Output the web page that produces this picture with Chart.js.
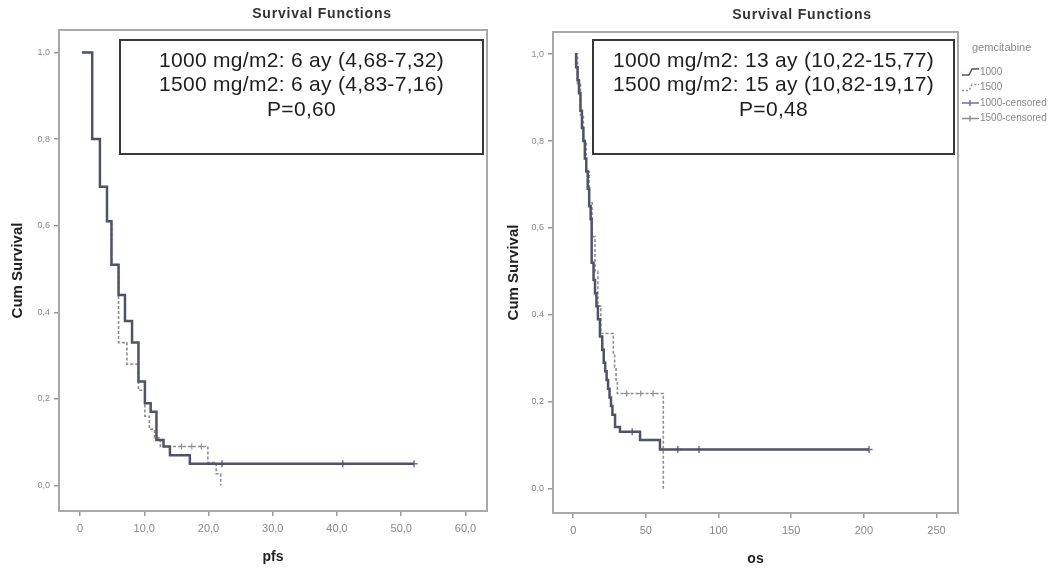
<!DOCTYPE html>
<html>
<head>
<meta charset="utf-8">
<script src="https://cdn.jsdelivr.net/npm/chart.js@4.4.1/dist/chart.umd.min.js"></script>
<style>
  body { margin: 0; background: #fff; }
  #wrap { position: relative; width: 1059px; height: 572px; }
  canvas { position: absolute; top: 0; }
</style>
</head>
<body>
<div id="wrap">
  <canvas id="chartPfs" width="496" height="572" style="left:0"></canvas>
  <canvas id="chartOs" width="563" height="572" style="left:496px"></canvas>
</div>
<script>
// --- pfs (left panel) ---
const pfsTime1000 = [0.3, 1.9, 3.1, 4.2, 4.9, 6.0, 7.0, 8.1, 9.1, 10.1, 11.0, 11.9, 13.0, 14.0, 17.1, 52.0];
const pfsSurv1000 = [1.0, 0.80, 0.69, 0.61, 0.51, 0.44, 0.38, 0.33, 0.24, 0.19, 0.17, 0.105, 0.09, 0.07, 0.05, 0.05];
const pfsTime1500 = [0.3, 1.9, 3.1, 4.2, 4.9, 6.0, 7.3, 9.1, 10.1, 10.8, 11.6, 12.5, 19.9, 21.2, 21.9];
const pfsSurv1500 = [1.0, 0.80, 0.69, 0.61, 0.51, 0.33, 0.28, 0.22, 0.16, 0.13, 0.11, 0.09, 0.053, 0.027, 0.0];
const pfsCensT1000 = [22.1, 40.9, 52.0];
const pfsCensS1000 = [0.05, 0.05, 0.05];
const pfsCensT1500 = [15.8, 17.4, 18.9];
const pfsCensS1500 = [0.09, 0.09, 0.09];
const pfsTicks = [0, 10, 20, 30, 40, 50, 60];
const pfsTickLabels = ["0", "10,0", "20,0", "30,0", "40,0", "50,0", "60,0"];
const pfsNotes = ["1000 mg/m2: 6 ay (4,68-7,32)", "1500 mg/m2: 6 ay (4,83-7,16)", "P=0,60"];

// --- os (right panel) ---
const osTime1000 = [1.2, 2, 3, 4, 5, 6, 7, 8, 9, 10, 11, 12, 12.7, 14, 15, 16, 17, 18.4, 20, 21, 22, 23, 24, 25, 26, 27, 28.8, 32.2, 46, 59.7, 203.6];
const osSurv1000 = [1.0, 0.97, 0.94, 0.91, 0.87, 0.83, 0.80, 0.76, 0.73, 0.69, 0.65, 0.62, 0.52, 0.48, 0.45, 0.42, 0.39, 0.35, 0.32, 0.29, 0.27, 0.25, 0.23, 0.21, 0.19, 0.17, 0.142, 0.131, 0.112, 0.09, 0.09];
const osTime1500 = [1.2, 3, 5, 7, 9, 11, 13, 15, 17, 19, 27.6, 28.5, 29.5, 30.4, 62];
const osSurv1500 = [1.0, 0.93, 0.86, 0.80, 0.73, 0.66, 0.58, 0.50, 0.42, 0.357, 0.31, 0.28, 0.25, 0.219, 0.0];
const osCensT1000 = [40.6, 72, 86.6, 203.6];
const osCensS1000 = [0.131, 0.09, 0.09, 0.09];
const osCensT1500 = [36.8, 46.5, 55];
const osCensS1500 = [0.219, 0.219, 0.219];
const osTicks = [0, 50, 100, 150, 200, 250];
const osTickLabels = ["0", "50", "100", "150", "200", "250"];
const osNotes = ["1000 mg/m2: 13 ay (10,22-15,77)", "1500 mg/m2: 15 ay (10,82-19,17)", "P=0,48"];

// shared
const survTicks = [0, 0.2, 0.4, 0.6, 0.8, 1.0];
const survTickLabels = ["0,0", "0,2", "0,4", "0,6", "0,8", "1,0"];
const chartTitle = "Survival Functions";
const yTitle = "Cum Survival";
const legendTitle = "gemcitabine";
const legendLabels = ["1000", "1500", "1000-censored", "1500-censored"];

const FONT = "'Liberation Sans', Arial, sans-serif";
const COL_1000 = "#505366";
const COL_1500 = "#8e8e94";
const COL_CENS = "#6f70a8";

function pts(xs, ys) {
  return xs.map((x, i) => ({ x: x, y: ys[i] }));
}

const panelDeco = {
  id: "panelDeco",
  beforeDatasetsDraw(chart, args, o) {
    const { ctx, chartArea: a } = chart;
    ctx.save();
    ctx.strokeStyle = "#a9a9a9";
    ctx.lineWidth = 2;
    ctx.strokeRect(a.left, a.top, a.right - a.left, a.bottom - a.top);
    ctx.restore();
  },
  afterDraw(chart, args, o) {
    const ctx = chart.ctx;
    ctx.save();
    // title
    ctx.fillStyle = "#333";
    ctx.font = "bold 14px " + FONT;
    ctx.letterSpacing = "0.8px";
    ctx.textAlign = "center";
    ctx.textBaseline = "middle";
    ctx.fillText(chartTitle, o.titleX, o.titleY);

    // note box
    const b = o.box;
    ctx.fillStyle = "#fff";
    ctx.fillRect(b.x, b.y, b.w, b.h);
    ctx.strokeStyle = "#383838";
    ctx.lineWidth = 2;
    ctx.strokeRect(b.x, b.y, b.w, b.h);
    ctx.fillStyle = "#1e1e1e";
    ctx.font = "21px " + FONT;
    ctx.letterSpacing = "0.3px";
    o.notes.forEach((t, i) => {
      ctx.fillText(t, b.x + b.w / 2, b.y + 21 + i * 24.5);
    });

    // legend
    if (o.legend) {
      const L = o.legend;
      ctx.letterSpacing = "0px";
      ctx.textAlign = "left";
      ctx.fillStyle = "#888";
      ctx.font = "11px " + FONT;
      ctx.fillText(legendTitle, L.x + 10, L.y);
      ctx.font = "10px " + FONT;
      legendLabels.forEach((t, i) => {
        const y = L.y + 24 + i * 15.5;
        const ds = chart.data.datasets[i];
        ctx.strokeStyle = ds.borderColor;
        ctx.lineWidth = 1.5;
        ctx.setLineDash(i === 1 ? [2, 2] : []);
        ctx.beginPath();
        if (i < 2) {
          ctx.moveTo(L.x, y + 3);
          ctx.lineTo(L.x + 7, y + 3);
          ctx.lineTo(L.x + 10, y - 3);
          ctx.lineTo(L.x + 17, y - 3);
        } else {
          ctx.moveTo(L.x, y);
          ctx.lineTo(L.x + 17, y);
          ctx.moveTo(L.x + 8, y - 3);
          ctx.lineTo(L.x + 8, y + 3);
        }
        ctx.stroke();
        ctx.setLineDash([]);
        ctx.fillStyle = "#888";
        ctx.fillText(t, L.x + 18, y);
      });
    }
    ctx.restore();
  }
};

function makeChart(canvas, cfg) {
  return new Chart(canvas, {
    type: "line",
    data: {
      datasets: [
        {
          label: legendLabels[0],
          data: pts(cfg.t1000, cfg.s1000),
          borderColor: COL_1000,
          borderWidth: 2.5,
          stepped: "before",
          pointRadius: 0,
          fill: false
        },
        {
          label: legendLabels[1],
          data: pts(cfg.t1500, cfg.s1500),
          borderColor: COL_1500,
          borderWidth: 1.6,
          borderDash: [3, 2],
          stepped: "before",
          pointRadius: 0,
          fill: false
        },
        {
          label: legendLabels[2],
          data: pts(cfg.ct1000, cfg.cs1000),
          borderColor: COL_CENS,
          showLine: false,
          pointStyle: "cross",
          pointRadius: 3.5,
          pointBorderWidth: 1.5
        },
        {
          label: legendLabels[3],
          data: pts(cfg.ct1500, cfg.cs1500),
          borderColor: COL_1500,
          showLine: false,
          pointStyle: "cross",
          pointRadius: 3,
          pointBorderWidth: 1.2
        }
      ]
    },
    options: {
      responsive: false,
      animation: false,
      devicePixelRatio: 1,
      layout: { padding: { top: cfg.top, right: cfg.right, left: 0, bottom: 0 } },
      plugins: {
        legend: { display: false },
        title: { display: false },
        tooltip: { enabled: false },
        panelDeco: cfg.deco
      },
      scales: {
        x: {
          type: "linear",
          min: cfg.xMin,
          max: cfg.xMax,
          afterBuildTicks: s => { s.ticks = cfg.xTicks.map(v => ({ value: v })); },
          afterFit: s => { s.height = cfg.xAxisH; },
          ticks: {
            autoSkip: false,
            maxRotation: 0,
            padding: 6,
            color: "#888",
            font: { size: 11, family: FONT },
            callback: (v, i) => cfg.xLabels[i]
          },
          grid: { drawOnChartArea: false, tickLength: 5, color: "#999", lineWidth: 1.5 },
          border: { display: false },
          title: {
            display: true,
            text: cfg.xTitle,
            color: "#222",
            font: { size: 14, weight: "bold", family: FONT },
            padding: { top: 0, bottom: cfg.xTitlePad }
          }
        },
        y: {
          min: cfg.yMin,
          max: cfg.yMax,
          afterBuildTicks: s => { s.ticks = survTicks.map(v => ({ value: v })); },
          afterFit: s => { s.width = cfg.yAxisW; },
          ticks: {
            autoSkip: false,
            padding: 4,
            color: "#888",
            font: { size: 9, family: FONT },
            callback: (v, i) => survTickLabels[i]
          },
          grid: { drawOnChartArea: false, tickLength: 5, color: "#999", lineWidth: 1.5 },
          border: { display: false },
          title: {
            display: true,
            text: yTitle,
            color: "#222",
            font: { size: 15, weight: "bold", family: FONT },
            padding: { top: 9, bottom: 0 }
          }
        }
      }
    },
    plugins: [panelDeco]
  });
}

makeChart(document.getElementById("chartPfs"), {
  t1000: pfsTime1000, s1000: pfsSurv1000,
  t1500: pfsTime1500, s1500: pfsSurv1500,
  ct1000: pfsCensT1000, cs1000: pfsCensS1000,
  ct1500: pfsCensT1500, cs1500: pfsCensS1500,
  xTicks: pfsTicks, xLabels: pfsTickLabels, xTitle: "pfs",
  xMin: -3.27, xMax: 63.35, yMin: -0.059, yMax: 1.052,
  top: 30, right: 9, xAxisH: 61, yAxisW: 59, xTitlePad: 6,
  deco: {
    titleX: 322, titleY: 14,
    box: { x: 120, y: 40, w: 363, h: 114 },
    notes: pfsNotes
  }
});

makeChart(document.getElementById("chartOs"), {
  t1000: osTime1000, s1000: osSurv1000,
  t1500: osTime1500, s1500: osSurv1500,
  ct1000: osCensT1000, cs1000: osCensS1000,
  ct1500: osCensT1500, cs1500: osCensS1500,
  xTicks: osTicks, xLabels: osTickLabels, xTitle: "os",
  xMin: -13.9, xMax: 264.8, yMin: -0.056, yMax: 1.051,
  top: 32, right: 101, xAxisH: 59, yAxisW: 57, xTitlePad: 4,
  deco: {
    titleX: 306, titleY: 15,
    box: { x: 97, y: 40, w: 361, h: 114 },
    notes: osNotes,
    legend: { x: 466, y: 48 }
  }
});
</script>
</body>
</html>
